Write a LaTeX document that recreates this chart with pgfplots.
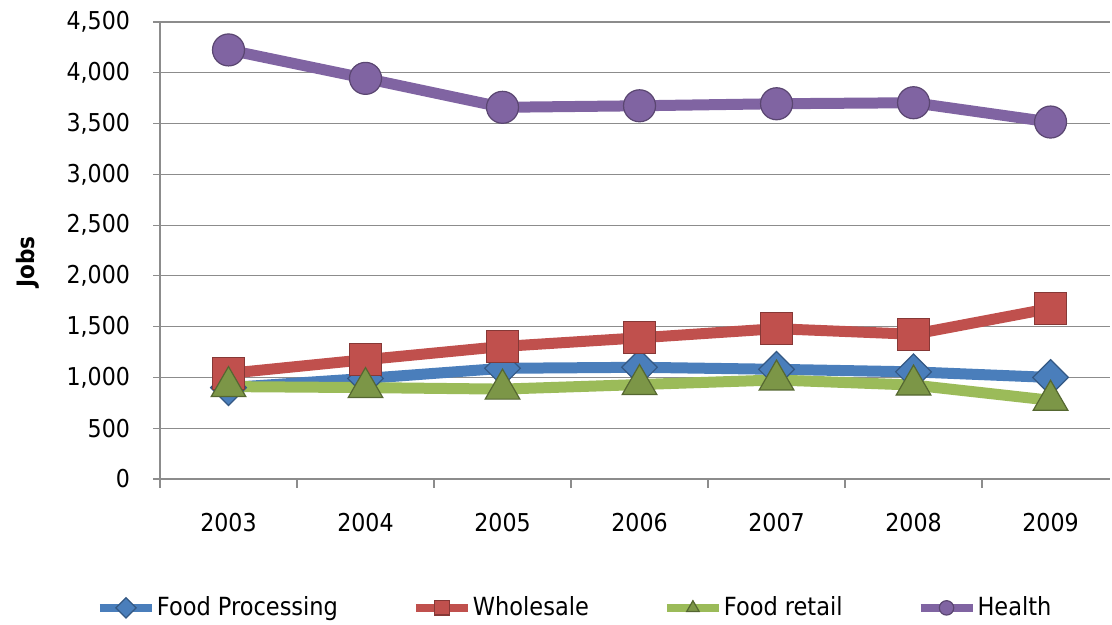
\documentclass[border=0pt]{standalone}
\usepackage{fontspec}
\setmainfont{DejaVu Sans Condensed}
\usepackage{pgfplots}
\pgfplotsset{compat=1.18}
\definecolor{fpblue}{HTML}{4A7EBB}
\definecolor{wsred}{HTML}{C0504D}
\definecolor{frgreen}{HTML}{9BBB59}
\definecolor{hpurple}{HTML}{8064A2}
\definecolor{gridgray}{HTML}{8C8C8C}
\begin{document}
\begin{tikzpicture}
\begin{axis}[
  at={(0,0)}, anchor=south west, scale only axis,
  width=475pt, height=228.5pt,
  xmin=-0.5, xmax=6.434, ymin=0, ymax=4500,
  xtick={0,...,6}, xticklabels={2003,2004,2005,2006,2007,2008,2009},
  minor xtick={-0.5,0.5,...,5.5},
  major x tick style={draw=none},
  minor x tick style={draw=gridgray, line width=0.6pt},
  minor tick length=4.5pt,
  ytick={0,500,...,4500},
  major y tick style={draw=gridgray, line width=0.6pt},
  major tick length=3.5pt,
  tick align=outside,
  ymajorgrids, grid style={gridgray, line width=0.6pt},
  axis x line*=bottom, axis y line*=left,
  axis line style={gridgray, line width=0.6pt},
  /pgf/number format/assume math mode=true,
  /pgf/number format/1000 sep={,},
  scaled y ticks=false,
  tick label style={font=\fontsize{12.3}{14}\selectfont, text=black},
  yticklabel style={xshift=-8pt},
  xticklabel style={yshift=-10pt},
  ylabel={Jobs},
  every axis y label/.style={at={(axis description cs:-0.139,0.475)}, rotate=90, anchor=center, font=\bfseries\fontsize{12}{14}\selectfont},
  clip=false,
  legend columns=4,
  legend style={draw=none, fill=none, at={(axis description cs:0.436,-0.282)}, anchor=center,
    font=\fontsize{12.5}{14}\selectfont,
    nodes={inner sep=0.5pt},
    /tikz/every even column/.append style={column sep=36.5pt}},
  legend image code/.code={
    \draw[#1, line width=4pt, mark size=3.6pt, mark repeat=2, mark phase=2] plot coordinates {(0pt,0pt) (13pt,0pt) (26pt,0pt)};
  },
]
\addplot[fpblue, line width=5.5pt, mark=square*, mark size=6.3pt,
  mark options={rotate=45, solid, fill=fpblue, draw=fpblue!70!black, line width=0.6pt}]
  coordinates {(0,900) (1,990) (2,1090) (3,1100) (4,1080) (5,1055) (6,1000)};
\addlegendentry{Food Processing}
\addplot[wsred, line width=5.5pt, mark=square*, mark size=8pt,
  mark options={solid, fill=wsred, draw=wsred!70!black, line width=0.6pt}]
  coordinates {(0,1040) (1,1175) (2,1305) (3,1390) (4,1480) (5,1425) (6,1680)};
\addlegendentry{Wholesale}
\addplot[frgreen, line width=5.5pt, mark=triangle*, mark size=10pt,
  mark options={solid, fill=frgreen!80!black, draw=frgreen!55!black, line width=0.6pt}]
  coordinates {(0,910) (1,900) (2,885) (3,930) (4,975) (5,925) (6,775)};
\addlegendentry{Food retail}
\addplot[hpurple, line width=5.5pt, mark=*, mark size=8pt,
  mark options={solid, fill=hpurple, draw=hpurple!70!black, line width=0.6pt}]
  coordinates {(0,4225) (1,3945) (2,3660) (3,3675) (4,3695) (5,3705) (6,3515)};
\addlegendentry{Health}
\end{axis}
\pgfresetboundingbox
\path (-80pt,-73pt) rectangle (476pt,239.5pt);
\end{tikzpicture}
\end{document}
